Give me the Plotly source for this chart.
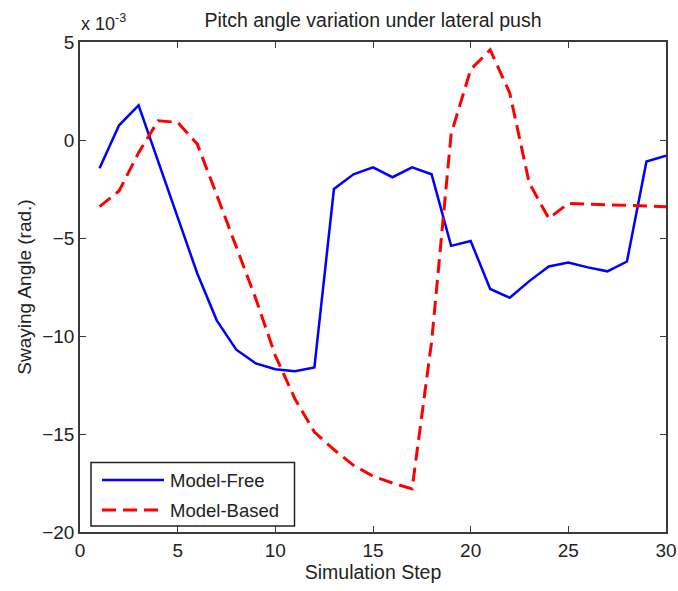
import plotly.graph_objects as go

# Data (values in units of 1e-3 rad)
steps = list(range(1, 31))
model_free = [-1.44, 0.75, 1.77, -1.1, -4.0, -6.8, -9.2, -10.7, -11.4, -11.7,
              -11.8, -11.6, -2.5, -1.75, -1.4, -1.9, -1.4, -1.75, -5.4, -5.15,
              -7.6, -8.05, -7.2, -6.45, -6.25, -6.5, -6.7, -6.2, -1.1, -0.8]
model_based = [-3.4, -2.6, -0.65, 0.98, 0.9, -0.2, -2.8, -5.5, -8.1, -11.0,
               -13.2, -14.9, -15.8, -16.6, -17.15, -17.5, -17.8, -10.3, 0.3, 3.6,
               4.6, 2.4, -2.2, -4.0, -3.23, -3.27, -3.3, -3.33, -3.37, -3.4]
series_names = ["Model-Free", "Model-Based"]
x_ticks = [0, 5, 10, 15, 20, 25, 30]
y_ticks = [-20, -15, -10, -5, 0, 5]

FONT = "Liberation Sans, Arial, sans-serif"
AX = "#3a3a3a"
TXT = "#222222"

fig = go.Figure()
fig.add_trace(go.Scatter(x=steps, y=model_free, mode="lines", name=series_names[0],
                         line=dict(color="#0000ff", width=2.5)))
fig.add_trace(go.Scatter(x=steps, y=model_based, mode="lines", name=series_names[1],
                         line=dict(color="#ff0000", width=3, dash="14px,7px")))

W, H = 678, 591
L, R, T, B = 80, 12, 42, 59
pw, ph = W - L - R, H - T - B

def px(xp):
    return (xp - L) / pw

def py(yp):
    return (H - B - yp) / ph

fig.update_layout(
    width=W, height=H,
    margin=dict(l=L, r=R, t=T, b=B, autoexpand=False),
    paper_bgcolor="white", plot_bgcolor="white",
    showlegend=False,
    font=dict(family=FONT, size=19, color=TXT),
    title=dict(text="Pitch angle variation under lateral push", x=(L + pw / 2) / W,
               xanchor="center", y=1 - 20 / H, yanchor="middle",
               font=dict(family=FONT, size=19.5, color=TXT)),
    xaxis=dict(range=[0, 30], tickvals=x_ticks, ticks="inside", ticklen=6,
               tickcolor=AX, showline=True, linecolor=AX, linewidth=1.5,
               mirror="ticks", showgrid=False, zeroline=False, automargin=False,
               title=dict(text="Simulation Step", standoff=6,
                          font=dict(family=FONT, size=19.5))),
    yaxis=dict(range=[-20, 5], tickvals=y_ticks, ticks="inside", ticklen=6,
               tickcolor=AX, showline=True, linecolor=AX, linewidth=1.5,
               mirror="ticks", showgrid=False, zeroline=False, automargin=False,
               title=dict(text="Swaying Angle (rad.)", standoff=6,
                          font=dict(family=FONT, size=19))),
)

# exponent label
fig.add_annotation(text="x 10<sup>-3</sup>", xref="paper", yref="paper",
                   x=px(79), y=py(36), xanchor="left", yanchor="bottom",
                   showarrow=False, font=dict(family=FONT, size=18, color=TXT))

# legend box (drawn manually)
fig.add_shape(type="rect", xref="paper", yref="paper",
              x0=px(91), x1=px(294.5), y0=py(526), y1=py(462.5),
              line=dict(color=TXT, width=1.5), fillcolor="white")
leg_y = [480, 510]
colors = ["#0000ff", "#ff0000"]
dashes = ["solid", "14px,7px"]
widths = [2.5, 3]
for name, yy, c, d, w in zip(series_names, leg_y, colors, dashes, widths):
    fig.add_shape(type="line", xref="paper", yref="paper",
                  x0=px(102), x1=px(164), y0=py(yy), y1=py(yy),
                  line=dict(color=c, width=w, dash=d))
    fig.add_annotation(text=name, xref="paper", yref="paper",
                       x=px(168), y=py(yy), xanchor="left", yanchor="middle",
                       showarrow=False, font=dict(family=FONT, size=18.5, color=TXT))

fig.write_html("out.html")
